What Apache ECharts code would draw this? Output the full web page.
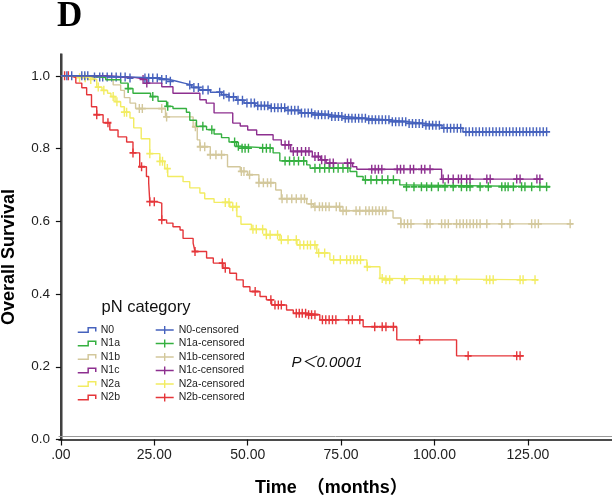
<!DOCTYPE html>
<html><head><meta charset="utf-8">
<script src="https://cdn.jsdelivr.net/npm/echarts@6/dist/echarts.min.js"></script>
<style>html,body{margin:0;padding:0;background:#fff}#c{width:612px;height:499px}</style>
</head><body><div id="c"></div>
<script>
// ---- data ----
const groups = ['N0', 'N1a', 'N1b', 'N1c', 'N2a', 'N2b'];
const xTicks = [0, 25, 50, 75, 100, 125];
const yTicks = [0, 0.2, 0.4, 0.6, 0.8, 1.0];

const stepN0 = [[0,1],[8,0.997],[18,0.994],[26,0.99],[29,0.985],[31,0.98],[33,0.975],[35,0.968],[37,0.961],[40,0.955],[43,0.948],[45,0.942],[47,0.933],[49,0.925],[52,0.918],[56,0.912],[60,0.905],[64,0.898],[68,0.893],[72,0.888],[76,0.883],[82,0.879],[88,0.874],[93,0.869],[97,0.864],[102,0.856],[107.6,0.846],[130,0.846]];
const stepN1a = [[0,1],[8,0.995],[12,0.989],[16,0.98],[18,0.965],[19.3,0.952],[24,0.943],[26,0.93],[28.3,0.916],[30,0.91],[33.6,0.9],[34.5,0.878],[36.3,0.861],[39,0.852],[41,0.84],[43,0.83],[45,0.818],[47,0.806],[48,0.801],[56.8,0.788],[58.6,0.766],[65.8,0.755],[66.7,0.746],[77.4,0.737],[79.2,0.723],[80.9,0.714],[90.7,0.70],[91.6,0.695],[131,0.695]];
const stepN1b = [[0,1],[6,0.997],[12,0.99],[14,0.975],[16,0.96],[17,0.94],[18.5,0.925],[20,0.91],[28,0.887],[35.4,0.86],[36.5,0.824],[37.2,0.805],[40,0.783],[44.6,0.75],[48,0.737],[50,0.728],[53,0.706],[57.5,0.686],[59,0.662],[65.8,0.648],[67.6,0.64],[74.7,0.629],[88.9,0.609],[91,0.593],[137,0.593]];
const stepN1c = [[0,1],[12,0.995],[20,0.99],[23,0.98],[27,0.97],[30,0.952],[37.2,0.934],[38.9,0.925],[41,0.898],[46,0.87],[48,0.862],[50,0.851],[52.4,0.838],[56.8,0.824],[59,0.81],[61.5,0.792],[67.3,0.778],[69.5,0.769],[71,0.76],[78.1,0.75],[79.2,0.743],[101.9,0.716],[129,0.716]];
const stepN2a = [[0,1],[5,0.995],[8,0.99],[9.6,0.969],[11,0.96],[12.5,0.952],[13.4,0.943],[14.5,0.929],[16,0.915],[17,0.9],[18.5,0.884],[19.5,0.857],[21.5,0.827],[23.8,0.786],[26.5,0.765],[27.8,0.745],[28.6,0.723],[32.7,0.709],[34.5,0.692],[37.2,0.678],[38.5,0.662],[41,0.652],[45.2,0.64],[47.1,0.613],[48.2,0.592],[51,0.578],[55,0.563],[58.6,0.549],[63.2,0.535],[68.5,0.513],[72,0.494],[81.9,0.475],[85.4,0.443],[86.5,0.439],[127.7,0.439]];
const stepN2b = [[0,1],[2.5,0.995],[4,0.98],[5.6,0.967],[6.9,0.948],[8.2,0.915],[9.6,0.893],[11.3,0.871],[13.1,0.851],[15.3,0.832],[17.6,0.818],[19.3,0.788],[21.1,0.75],[22.9,0.723],[23.5,0.706],[23.8,0.654],[25.6,0.65],[27,0.604],[28.3,0.595],[30,0.585],[31.9,0.576],[32.7,0.553],[35.4,0.54],[35.9,0.517],[39,0.499],[40.8,0.485],[43.4,0.471],[45.2,0.457],[47,0.439],[48.8,0.42],[50.6,0.407],[53.3,0.393],[55,0.384],[56.4,0.37],[60.4,0.356],[62.2,0.347],[65.8,0.343],[69.3,0.329],[80.9,0.31],[89.9,0.274],[105.9,0.23],[123.9,0.23]];

const censorN0 = [1.6,2.9,5.6,6.4,7.2,9,10.4,11.2,12.4,13.6,14.8,16,17.2,18.5,22.5,23.5,24.6,25.8,27,28.2,29.3,34.5,35.6,36.8,38,39.4,42.5,43.6,45,46.2,47.4,48.6,49.8,50.9,51.8,52.7,53.6,54.5,55.4,56.3,57.2,58.1,59,59.9,60.8,61.7,62.6,63.5,64.4,65.3,66.2,67.1,68,68.9,69.8,70.7,71.6,72.5,73.4,74.3,75.2,76.1,77,77.9,78.8,79.7,80.6,81.5,82.4,83.3,84.2,85.1,86,86.9,87.8,88.7,89.6,90.5,91.4,92.3,93.2,94.1,95,95.9,96.8,97.7,98.6,99.5,100.4,101.3,102.5,103.4,104.3,105.2,106.1,107,108.4,109.3,110.2,111.1,112,112.9,113.8,114.7,115.6,116.5,117.4,118.3,119.2,120.1,121,121.9,122.8,123.7,124.6,125.5,126.4,127.3,128.2,129.1,130];
const censorN1a = [18,24.6,28.6,38,40.4,46.5,47.5,48.5,49.3,50.2,54,55,56,60,61.2,62.4,63.6,65,68,69.3,70.6,71.8,73,74.2,75.5,76.8,81.5,83,84.5,86,87.5,89,92.5,94.5,96.5,97.9,99.2,101,102.8,105,107.2,108.6,109.5,112.2,114.4,118,118.9,119.7,121.1,123.3,124.2,126,128.2,130];
const censorN1b = [21,21.8,27,28.3,36,37.3,38.5,40,41.5,43,48.3,49,50.5,53,54.2,55.3,56.2,59.2,60.5,61.8,63,64.3,65.2,67,68,69.2,70,70.9,71.8,73.7,74.6,75.5,76.4,79,80,81.6,82.5,83.4,84.3,85.2,86.1,87,91,91.9,92.8,93.7,98,98.8,101.9,102.8,103.7,105.9,106.8,107.7,108.6,109.5,110.4,111.3,112.2,114,118,120.2,126,126.9,127.8,136.3];
const censorN1c = [22,23,60,61,62.2,63.3,64.4,65.5,66.4,68,68.9,69.8,70.7,72,72.9,76.7,77.6,83.2,84.1,85,85.9,90,90.9,91.8,93.5,94.4,96.5,97.4,98.8,102.3,103.7,105,106.4,107.2,108.6,109.5,114,114.9,122,122.9,127.4,128.2];
const censorN2a = [5,6.5,8,10,11.5,14,15,17,17.6,23.8,26.5,27.2,28.5,44,45,46,47,51.4,52.3,54,55,56,58,59,60.8,63,64,65,66,66.8,68,69,70.6,73,74.8,76.5,77.5,78.4,79.3,80.2,82,86,87,88,92,97,98.8,100,101,102.8,105.9,113.9,114.8,115.7,122.9,123.7,126.9];
const censorN2b = [1,2,9.6,12.6,19.3,21.6,23.8,25,27,35.9,43.2,44,52,56.2,57.3,58.2,59,63,63.8,64.6,65.5,66.3,67.1,68,70,70.9,71.8,72.7,73.6,77,78,80,84,86,87,89,96,109,122,122.9];

// ---- styles ----
const colors = {N0:'#4662bd', N1a:'#35b040', N1b:'#d3c89c', N1c:'#8d2f8f', N2a:'#f2ec62', N2b:'#e5363a'};
const steps = {N0:stepN0, N1a:stepN1a, N1b:stepN1b, N1c:stepN1c, N2a:stepN2a, N2b:stepN2b};
const censors = {N0:censorN0, N1a:censorN1a, N1b:censorN1b, N1c:censorN1c, N2a:censorN2a, N2b:censorN2b};

function survAt(st, t) {
  let s = st[0][1];
  for (const p of st) { if (p[0] <= t) s = p[1]; else break; }
  return s;
}

const FONT = '"Liberation Sans", Arial, sans-serif';
const plusPath = 'path://M0,4 H10 V6 H0 Z M4,0 H6 V10 H4 Z';
const stepIcon = 'path://M0,5 L11,5 L11,0 L19,0 L19,4';
const plusIcon = 'path://M0,4 L18,4 M9,0 L9,8';

const drawOrder = ['N2b', 'N2a', 'N1b', 'N1a', 'N1c', 'N0'];
const series = [];
drawOrder.forEach(g => {
  series.push({
    name: g, type: 'line', step: 'end', showSymbol: false, silent: true,
    data: steps[g], lineStyle: {color: colors[g], width: 1.4}, itemStyle: {color: colors[g]},
    xAxisIndex: 0, yAxisIndex: 0, animation: false
  });
});
drawOrder.forEach(g => {
  series.push({
    name: g + '-censored', type: 'scatter', symbol: plusPath, symbolSize: [7, 9], silent: true,
    data: censors[g].map(t => [t, survAt(steps[g], t)]),
    itemStyle: {color: colors[g], opacity: 1}, xAxisIndex: 0, yAxisIndex: 0, animation: false
  });
});

const baseX = {type: 'value', min: -0.5, max: 147.5, gridIndex: 0};
const baseY = {type: 'value', min: 0, max: 1.06, gridIndex: 0};

const option = {
  animation: false,
  backgroundColor: '#fff',
  grid: {left: 59, right: 0, top: 54, bottom: 59.5, containLabel: false, outerBoundsMode: 'none'},
  xAxis: [
    Object.assign({}, baseX, {
      position: 'bottom',
      axisLine: {show: true, lineStyle: {color: '#111', width: 1.6}},
      axisTick: {show: true, length: 6, customValues: xTicks, lineStyle: {color: '#111', width: 1.2}},
      axisLabel: {show: true, customValues: xTicks, margin: 9, color: '#222', fontSize: 14, fontFamily: FONT,
        formatter: v => v === 0 ? '.00' : v.toFixed(2)},
      splitLine: {show: false}
    }),
    Object.assign({}, baseX, {
      position: 'bottom', offset: -3.5,
      axisLine: {show: true, lineStyle: {color: '#9a9a9a', width: 1}},
      axisTick: {show: false}, axisLabel: {show: false}, splitLine: {show: false}
    })
  ],
  yAxis: [
    Object.assign({}, baseY, {
      position: 'left',
      axisLine: {show: true, lineStyle: {color: '#111', width: 1.6}},
      axisTick: {show: true, length: 5, customValues: yTicks, lineStyle: {color: '#111', width: 1.2}},
      axisLabel: {show: true, customValues: yTicks, margin: 9, color: '#222', fontSize: 13.5, fontFamily: FONT,
        formatter: v => v.toFixed(1)},
      splitLine: {show: false}
    }),
    Object.assign({}, baseY, {
      position: 'left', offset: -3,
      axisLine: {show: true, lineStyle: {color: '#9a9a9a', width: 1}},
      axisTick: {show: false}, axisLabel: {show: false}, splitLine: {show: false}
    })
  ],
  legend: [
    {
      orient: 'vertical', left: 77, top: 324.5, padding: 0, itemWidth: 18, itemHeight: 11, itemGap: 2.5,
      selectedMode: false,
      textStyle: {fontSize: 10.5, color: '#222', fontFamily: FONT},
      data: groups.map(g => ({name: g, icon: stepIcon,
        itemStyle: {color: 'transparent', borderColor: colors[g], borderWidth: 1.5}}))
    },
    {
      orient: 'vertical', left: 155, top: 324.5, padding: 0, itemWidth: 18, itemHeight: 11, itemGap: 2.5,
      selectedMode: false,
      textStyle: {fontSize: 10.5, color: '#222', fontFamily: FONT},
      data: groups.map(g => ({name: g + '-censored', icon: plusIcon,
        itemStyle: {color: 'transparent', borderColor: colors[g], borderWidth: 1.4}}))
    }
  ],
  graphic: [
    {type: 'text', x: 57, y: 17, style: {text: 'D', font: 'bold 35px "Liberation Serif", "Times New Roman", serif', fill: '#000', verticalAlign: 'middle'}},
    {type: 'text', x: 9, y: 257, rotation: Math.PI / 2, style: {text: 'Overall Survival', font: 'bold 18px ' + FONT, fill: '#000', align: 'center', verticalAlign: 'middle'}},
    {type: 'text', x: 255, y: 488, style: {text: 'Time  （months）', font: 'bold 18px "Liberation Sans", "Noto Sans CJK SC", sans-serif', fill: '#000', verticalAlign: 'middle'}},
    {type: 'text', x: 101.5, y: 307, style: {text: 'pN category', font: '16.5px ' + FONT, fill: '#111', verticalAlign: 'middle'}},
    {type: 'text', x: 291.5, y: 363, style: {text: 'P＜0.0001', font: 'italic 15px "Liberation Sans", "Noto Sans CJK SC", sans-serif', fill: '#111', verticalAlign: 'middle'}}
  ],
  series: series
};

const chart = echarts.init(document.getElementById('c'), null, {renderer: 'canvas'});
chart.setOption(option);
</script>
</body></html>
